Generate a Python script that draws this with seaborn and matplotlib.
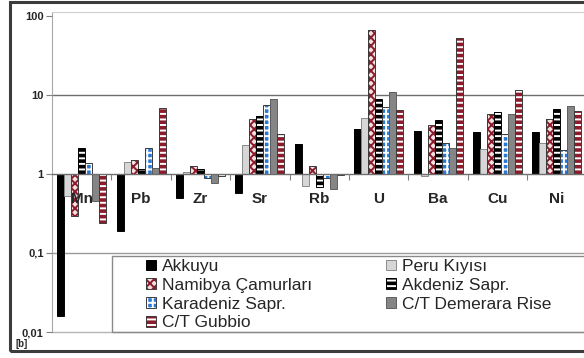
import numpy as np
import pandas as pd
import matplotlib
matplotlib.use("Agg")
import matplotlib.pyplot as plt
from matplotlib.patches import Rectangle, Patch
import seaborn as sns

# Enrichment factors per element (log axis, bars grow from 1)
elements = ["Mn", "Pb", "Zr", "Sr", "Rb", "U", "Ba", "Cu", "Ni"]
series = ["Akkuyu", "Peru Kıyısı", "Namibya Çamurları", "Akdeniz Sapr.",
          "Karadeniz Sapr.", "C/T Demerara Rise", "C/T Gubbio"]

akkuyu    = [0.016, 0.19, 0.50, 0.57, 2.4, 3.7, 3.5, 3.4, 3.35]
peru      = [0.53, 1.40, 1.05, 2.3, 0.70, 5.1, 0.95, 2.1, 2.45]
namibya   = [0.29, 1.50, 1.25, 4.9, 1.25, 66.0, 4.2, 5.8, 4.9]
akdeniz   = [2.15, 1.15, 1.15, 5.4, 0.69, 9.0, 4.8, 6.1, 6.6]
karadeniz = [1.38, 2.15, 0.89, 7.4, 0.90, 7.1, 2.45, 3.2, 2.0]
demerara  = [0.45, 1.20, 0.76, 8.8, 0.65, 11.0, 2.15, 5.8, 7.3]
gubbio    = [0.24, 6.9, 0.95, 3.2, 0.97, 6.4, 53.0, 11.6, 6.3]

values = [akkuyu, peru, namibya, akdeniz, karadeniz, demerara, gubbio]

df = pd.DataFrame(
    [(el, s, np.log10(v)) for s, vals in zip(series, values)
     for el, v in zip(elements, vals)],
    columns=["element", "series", "logv"],
)

# fill, hatch, hatch colour, outline colour
styles = {
    "Akkuyu":            ("#000000", None, None, "#000000"),
    "Peru Kıyısı":       ("#d6d6d6", None, None, "#8a8a8a"),
    "Namibya Çamurları": ("#f3e1e1", "xxxx", "#8b1c2c", "#3a3a3a"),
    "Akdeniz Sapr.":     ("#000000", "---", "#ffffff", "#000000"),
    "Karadeniz Sapr.":   ("#2a7ad4", "+++", "#ffffff", "#3a3a3a"),
    "C/T Demerara Rise": ("#858585", None, None, "#5e5e5e"),
    "C/T Gubbio":        ("#8b1c2c", "---", "#ffffff", "#3a3a3a"),
}

sns.set_style("white")
plt.rcParams["font.family"] = ["Liberation Sans", "DejaVu Sans"]
plt.rcParams["hatch.linewidth"] = 1.4

W, H = 584, 358
fig = plt.figure(figsize=(W / 100, H / 100), dpi=100)
ax = fig.add_axes([52 / W, 1 - 332 / H, (586.6 - 52) / W, (332 - 12) / H])

sns.barplot(data=df, x="element", y="logv", hue="series",
            order=elements, hue_order=series,
            palette={s: styles[s][0] for s in series},
            width=0.825, errorbar=None, legend=False, ax=ax,
            saturation=1, zorder=2)

handles = []
for s, cont in zip(series, ax.containers):
    fc, hatch, hc, ec = styles[s]
    for p in cont.patches:
        p.set_facecolor(fc)
        if hatch:
            p.set_hatch(hatch)
            p.set_edgecolor(hc)
        else:
            p.set_edgecolor(ec)
        p.set_linewidth(0)
        ax.add_patch(Rectangle(p.get_xy(), p.get_width(), p.get_height(),
                               fill=False, ec=ec, lw=0.7, zorder=2.1))
    if hatch:
        h = (Patch(fc=fc, hatch=hatch, ec=hc, lw=0), Patch(fill=False, ec=ec, lw=0.7))
    else:
        h = Patch(fc=fc, ec=ec, lw=0.7)
    handles.append(h)

# axes: log10 scale, category axis crosses at 1
ax.set_axisbelow(False)
ax.set_xlim(-0.5, len(elements) - 0.5)
ax.set_ylim(-2, 2.05)
ax.set_yticks([-2, -1, 0, 1, 2])
ax.set_yticklabels(["0,01", "0,1", "1", "10", "100"], fontsize=8, fontweight="bold")
ax.tick_params(axis="y", length=4, width=0.8, color="#808080", pad=2, left=True)

ax.spines["bottom"].set_position(("data", 0))
ax.spines["bottom"].set_color("#6e6e6e")
ax.spines["bottom"].set_linewidth(1.0)
ax.spines["left"].set_color("#a8a8a8")
ax.spines["top"].set_color("#cfcfcf")
ax.spines["right"].set_visible(False)

ax.set_xticks(range(len(elements)))
ax.set_xticklabels(elements, fontsize=11, fontweight="bold")
ax.set_xticks(np.arange(0.5, len(elements) - 0.5, 1), minor=True)
ax.tick_params(axis="x", which="major", length=0, pad=13, bottom=True)
ax.tick_params(axis="x", which="minor", length=4, width=0.8, color="#808080",
               direction="out", bottom=True)
ax.xaxis.set_zorder(3)
ax.set_xlabel("")
ax.set_ylabel("")

ax.axhline(1, color="#6e6e6e", lw=1.0, zorder=1)
ax.axhline(-1, color="#9a9a9a", lw=1.0, zorder=1)
ax.axhline(-2, color="#b4b4b4", lw=1.0, zorder=1, clip_on=False)

# legend box and entries
fig.add_artist(Rectangle((112 / W, 1 - 332 / H), 600 / W, (332 - 256) / H,
                         transform=fig.transFigure, fill=False,
                         ec="#8a8a8a", lw=1.0, zorder=3))
order = [0, 2, 4, 6, 1, 3, 5]
leg = fig.legend([handles[i] for i in order], [series[i] for i in order],
                 loc="upper left", bbox_to_anchor=(146 / W, 1 - 259 / H),
                 bbox_transform=fig.transFigure, ncol=2, frameon=False,
                 fontsize=12.5, borderpad=0, borderaxespad=0,
                 handlelength=0.55, handleheight=0.55, handletextpad=0.35,
                 labelspacing=0.22, columnspacing=4.3)
leg.set_zorder(4)

# outer frame and panel tag
fig.add_artist(Rectangle((9.5 / W, 1 - 351 / H), 1.2, (351 - 1.5) / H,
                         transform=fig.transFigure, fill=False,
                         ec="#3c3c3c", lw=2.2, zorder=5))
fig.text(15 / W, 1 - 344 / H, "[b]", fontsize=7, fontweight="bold",
         va="center", ha="left")

fig.savefig("out.png", dpi=100)
